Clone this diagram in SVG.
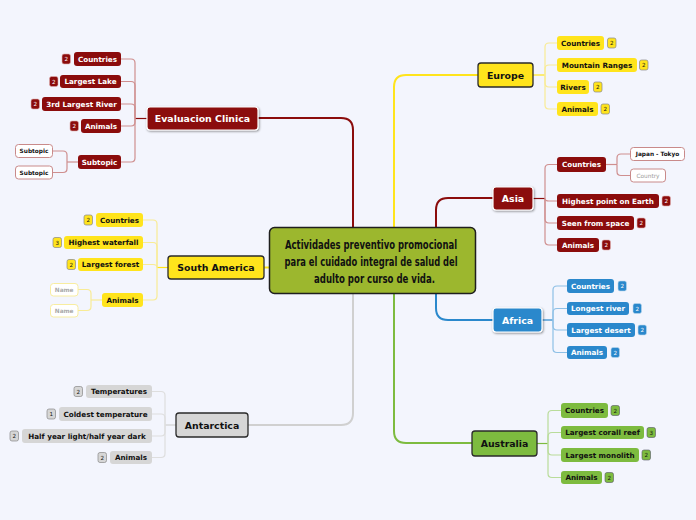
<svg xmlns="http://www.w3.org/2000/svg" width="696" height="520" viewBox="0 0 696 520">
<defs>
<filter id="sh" x="-10%" y="-20%" width="130%" height="160%"><feDropShadow dx="0.8" dy="1" stdDeviation="0.8" flood-color="#000" flood-opacity="0.45"/></filter>
<style>
text{font-family:"DejaVu Sans","Liberation Sans",sans-serif;font-weight:bold;text-anchor:middle}
.mt{font-size:9.4px}
.ct{font-size:7.2px}
.st{font-size:5.8px}
.bt{font-size:5.6px;font-weight:normal}
.w{fill:#fff}
.k{fill:#111}
.red{fill:#8b0c0c}
.yel{fill:#ffe41c}
.gry{fill:#d6d6d6}
.blu{fill:#2a88cc}
.grn{fill:#7dbb3f}
.mainr{stroke:#fff;stroke-width:1.2}
.maink{stroke:#2a2a2a;stroke-width:1.3}
.c{fill:none;stroke-width:1.2}
.cr{stroke:#cf8f8f}
.cy{stroke:#f8eb95}
.cg{stroke:#dedede}
.cb{stroke:#8ec0e6}
.cn{stroke:#b9dc9a}
.M{fill:none;stroke-width:2}
</style>
</defs>
<rect width="696" height="520" fill="#f3f5fd"/>

<g id="connectors">
<path class="M" stroke="#8b0c0c" d="M353,227 V130 Q353,118 341,118 H258"/>
<path class="M" stroke="#ffe41c" d="M394,227 V87 Q394,75 406,75 H478"/>
<path class="M" stroke="#8b0c0c" d="M436,227 V210 Q436,198 448,198 H493"/>
<path class="M" stroke="#2a88cc" d="M436,294 V308 Q436,320 448,320 H493"/>
<path class="M" stroke="#7dbb3f" d="M394,294 V431 Q394,443 406,443 H472"/>
<path class="M" stroke="#d0d0d0" d="M353,294 V413 Q353,425 341,425 H248"/>
<path class="M" stroke="#ffe41c" d="M270,267.5 H264"/>

<g class="c cr">
<path stroke="#8b0c0c" d="M147,118.5 H135"/>
<path d="M135,118.5 V63 Q135,59 131,59 H121"/>
<path d="M135,118.5 V85.5 Q135,81.5 131,81.5 H121"/>
<path d="M135,118.5 V108 Q135,104 131,104 H121"/>
<path d="M135,118.5 V122 Q135,126 131,126 H121"/>
<path d="M135,118.5 V158 Q135,162 131,162 H121"/>
<path d="M78,162 H67"/>
<path d="M67,162 V155 Q67,151 63,151 H52"/>
<path d="M67,162 V168.5 Q67,172.5 63,172.5 H52"/>
<path stroke="#8b0c0c" d="M533,198.5 H545"/>
<path d="M545,198.5 V168.5 Q545,164.5 549,164.5 H557"/>
<path d="M545,198.5 Q545,201 549,201 H557"/>
<path d="M545,198.5 V219 Q545,223 549,223 H557"/>
<path d="M545,198.5 V241 Q545,245 549,245 H557"/>
<path d="M606,164.5 H617"/>
<path d="M617,164.5 V158 Q617,154 621,154 H630"/>
<path d="M617,164.5 V171.5 Q617,175.5 621,175.5 H630"/>
</g>
<g class="c cy">
<path stroke="#ffe41c" d="M168,267.5 H157"/>
<path d="M157,267.5 V224 Q157,220 153,220 H143"/>
<path d="M157,267.5 V246.5 Q157,242.5 153,242.5 H143"/>
<path d="M157,267.5 Q157,264.5 153,264.5 H143"/>
<path d="M157,267.5 V296 Q157,300 153,300 H143"/>
<path d="M102,300 H91"/>
<path d="M91,300 V293.5 Q91,289.5 87,289.5 H78"/>
<path d="M91,300 V306.5 Q91,310.5 87,310.5 H78"/>
<path stroke="#ffe41c" d="M533,75 H545"/>
<path d="M545,75 V47 Q545,43 549,43 H557"/>
<path d="M545,75 V69 Q545,65 549,65 H557"/>
<path d="M545,75 V83 Q545,87 549,87 H557"/>
<path d="M545,75 V105 Q545,109 549,109 H557"/>
</g>
<g class="c cg">
<path stroke="#d0d0d0" d="M176,425 H165"/>
<path d="M165,425 V395.5 Q165,391.5 161,391.5 H152"/>
<path d="M165,425 V418 Q165,414 161,414 H152"/>
<path d="M165,425 V432 Q165,436 161,436 H152"/>
<path d="M165,425 V453.5 Q165,457.5 161,457.5 H152"/>
</g>
<g class="c cb">
<path stroke="#2a88cc" d="M542,320 H553"/>
<path d="M553,320 V290 Q553,286 557,286 H567"/>
<path d="M553,320 V312.5 Q553,308.5 557,308.5 H567"/>
<path d="M553,320 V326 Q553,330 557,330 H567"/>
<path d="M553,320 V348.5 Q553,352.5 557,352.5 H567"/>
</g>
<g class="c cn">
<path stroke="#7dbb3f" d="M537,443.5 H548"/>
<path d="M548,443.5 V414.5 Q548,410.5 552,410.5 H561"/>
<path d="M548,443.5 V436.5 Q548,432.5 552,432.5 H561"/>
<path d="M548,443.5 V451 Q548,455 552,455 H561"/>
<path d="M548,443.5 V473.5 Q548,477.5 552,477.5 H561"/>
</g>
</g>

<g id="center">
<rect x="269.5" y="227.5" width="206" height="66" rx="5" fill="#9cb72e" stroke="#1e1e1e" stroke-width="1.5"/>
<text font-family="'Liberation Sans Narrow','DejaVu Sans Condensed',sans-serif" style="font-family:'Liberation Sans Narrow','DejaVu Sans Condensed',sans-serif;font-size:12.5px" class="k">
<tspan x="373" y="249" textLength="172" lengthAdjust="spacingAndGlyphs">Actividades preventivo promocional</tspan>
<tspan x="373" y="266" textLength="173" lengthAdjust="spacingAndGlyphs">para el cuidado integral de salud del</tspan>
<tspan x="374.5" y="283" textLength="121" lengthAdjust="spacingAndGlyphs">adulto por curso de vida.</tspan>
</text>
</g>

<g id="evaluacion">
<rect x="147" y="107" width="111" height="23" rx="3" class="red mainr" filter="url(#sh)"/>
<text x="202.5" y="122" class="mt w">Evaluacion Clinica</text>
</g>
<g id="ev-countries"><rect x="74" y="52" width="47" height="14" rx="3" class="red"/><text x="97.5" y="61.6" class="ct w">Countries</text>
<rect x="62" y="54" width="8.5" height="10" rx="2" class="red" stroke="#e0b0b0" stroke-width="0.6"/><text x="66.2" y="61" class="bt w">2</text></g>
<g id="ev-lake"><rect x="60" y="75" width="61" height="13" rx="3" class="red"/><text x="90.5" y="84.1" class="ct w">Largest Lake</text>
<rect x="49.5" y="76.5" width="8.5" height="10" rx="2" class="red" stroke="#e0b0b0" stroke-width="0.6"/><text x="53.7" y="83.5" class="bt w">2</text></g>
<g id="ev-river"><rect x="42" y="97" width="79" height="14" rx="3" class="red"/><text x="81.5" y="106.6" class="ct w">3rd Largest River</text>
<rect x="31" y="99" width="8.5" height="10" rx="2" class="red" stroke="#e0b0b0" stroke-width="0.6"/><text x="35.2" y="106" class="bt w">2</text></g>
<g id="ev-animals"><rect x="81" y="119" width="40" height="14" rx="3" class="red"/><text x="101" y="128.6" class="ct w">Animals</text>
<rect x="70" y="121" width="8.5" height="10" rx="2" class="red" stroke="#e0b0b0" stroke-width="0.6"/><text x="74.2" y="128" class="bt w">2</text></g>
<g id="ev-subtopic"><rect x="78" y="155" width="43" height="14" rx="3" class="red"/><text x="99.5" y="164.6" class="ct w">Subtopic</text></g>
<g id="ev-sub1"><rect x="15.5" y="144.5" width="37" height="13" rx="3" fill="#fff" stroke="#c98a8a" stroke-width="1"/><text x="34" y="153" class="st k">Subtopic</text></g>
<g id="ev-sub2"><rect x="15.5" y="166" width="37" height="13" rx="3" fill="#fff" stroke="#c98a8a" stroke-width="1"/><text x="34" y="174.5" class="st k">Subtopic</text></g>

<g id="south-america">
<rect x="168" y="256" width="96" height="23" rx="3" class="yel maink"/>
<text x="216" y="271" class="mt k">South America</text>
</g>
<g id="sa-countries"><rect x="96" y="213" width="47" height="14" rx="3" class="yel"/><text x="119.5" y="222.6" class="ct k">Countries</text>
<rect x="84" y="215" width="8.5" height="10" rx="2" class="yel" stroke="#888" stroke-width="0.7"/><text x="88.2" y="222" class="bt k">2</text></g>
<g id="sa-waterfall"><rect x="64" y="236" width="79" height="13" rx="3" class="yel"/><text x="103.5" y="245.1" class="ct k">Highest waterfall</text>
<rect x="53" y="237.5" width="8.5" height="10" rx="2" class="yel" stroke="#888" stroke-width="0.7"/><text x="57.2" y="244.5" class="bt k">3</text></g>
<g id="sa-forest"><rect x="78" y="258" width="65" height="13" rx="3" class="yel"/><text x="110.5" y="267.1" class="ct k">Largest forest</text>
<rect x="67" y="259.5" width="8.5" height="10" rx="2" class="yel" stroke="#888" stroke-width="0.7"/><text x="71.2" y="266.5" class="bt k">2</text></g>
<g id="sa-animals"><rect x="102" y="293" width="41" height="14" rx="3" class="yel"/><text x="122.5" y="302.6" class="ct k">Animals</text></g>
<g id="sa-name1"><rect x="50.5" y="283.5" width="27.5" height="12.5" rx="3" fill="#fff" stroke="#f8eda0" stroke-width="1"/><text x="64.2" y="291.8" class="st" fill="#a8a8a8">Name</text></g>
<g id="sa-name2"><rect x="50.5" y="304.5" width="27.5" height="12.5" rx="3" fill="#fff" stroke="#f8eda0" stroke-width="1"/><text x="64.2" y="312.8" class="st" fill="#a8a8a8">Name</text></g>

<g id="antarctica">
<rect x="176" y="413" width="72" height="24" rx="3" class="gry maink"/>
<text x="212" y="428.5" class="mt k">Antarctica</text>
</g>
<g id="an-temp"><rect x="86" y="385" width="66" height="13" rx="3" class="gry"/><text x="119" y="394.1" class="ct k">Temperatures</text>
<rect x="74" y="386.5" width="8.5" height="10" rx="2" class="gry" stroke="#888" stroke-width="0.7"/><text x="78.2" y="393.5" class="bt k">2</text></g>
<g id="an-cold"><rect x="59" y="407" width="93" height="14" rx="3" class="gry"/><text x="105.5" y="416.6" class="ct k">Coldest temperature</text>
<rect x="47" y="409" width="8.5" height="10" rx="2" class="gry" stroke="#888" stroke-width="0.7"/><text x="51.2" y="416" class="bt k">1</text></g>
<g id="an-half"><rect x="22" y="429" width="130" height="14" rx="3" class="gry"/><text x="87" y="438.6" class="ct k">Half year light/half year dark</text>
<rect x="10" y="431" width="8.5" height="10" rx="2" class="gry" stroke="#888" stroke-width="0.7"/><text x="14.2" y="438" class="bt k">2</text></g>
<g id="an-animals"><rect x="110" y="451" width="42" height="13" rx="3" class="gry"/><text x="131" y="460.1" class="ct k">Animals</text>
<rect x="98" y="452.5" width="8.5" height="10" rx="2" class="gry" stroke="#888" stroke-width="0.7"/><text x="102.2" y="459.5" class="bt k">2</text></g>

<g id="europe">
<rect x="478" y="63" width="55" height="24" rx="3" class="yel maink"/>
<text x="505.5" y="78.5" class="mt k">Europe</text>
</g>
<g id="eu-countries"><rect x="557" y="36" width="47" height="14" rx="3" class="yel"/><text x="580.5" y="45.6" class="ct k">Countries</text>
<rect x="607.5" y="38" width="8.5" height="10" rx="2" class="yel" stroke="#888" stroke-width="0.7"/><text x="611.7" y="45" class="bt k">2</text></g>
<g id="eu-mountain"><rect x="557" y="58" width="80" height="14" rx="3" class="yel"/><text x="597" y="67.6" class="ct k">Mountain Ranges</text>
<rect x="639.5" y="60" width="8.5" height="10" rx="2" class="yel" stroke="#888" stroke-width="0.7"/><text x="643.7" y="67" class="bt k">2</text></g>
<g id="eu-rivers"><rect x="557" y="80" width="32" height="14" rx="3" class="yel"/><text x="573" y="89.6" class="ct k">Rivers</text>
<rect x="593.5" y="82" width="8.5" height="10" rx="2" class="yel" stroke="#888" stroke-width="0.7"/><text x="597.7" y="89" class="bt k">2</text></g>
<g id="eu-animals"><rect x="557" y="102" width="41" height="14" rx="3" class="yel"/><text x="577.5" y="111.6" class="ct k">Animals</text>
<rect x="601" y="104" width="8.5" height="10" rx="2" class="yel" stroke="#888" stroke-width="0.7"/><text x="605.2" y="111" class="bt k">2</text></g>

<g id="asia">
<rect x="493" y="187" width="40" height="23" rx="3" class="red mainr" filter="url(#sh)"/>
<text x="513" y="202" class="mt w">Asia</text>
</g>
<g id="as-countries"><rect x="557" y="157" width="49" height="15" rx="3" class="red"/><text x="581.5" y="167.1" class="ct w">Countries</text></g>
<g id="as-japan"><rect x="630.5" y="147.5" width="54" height="13" rx="3" fill="#fff" stroke="#c98a8a" stroke-width="1"/><text x="657.5" y="156" class="st k">Japan - Tokyo</text></g>
<g id="as-country"><rect x="630.5" y="169" width="35" height="13" rx="3" fill="#fff" stroke="#c98a8a" stroke-width="1"/><text x="648" y="177.6" class="st" style="font-weight:normal" fill="#999">Country</text></g>
<g id="as-highest"><rect x="557" y="194" width="102" height="14" rx="3" class="red"/><text x="608" y="203.6" class="ct w">Highest point on Earth</text>
<rect x="662" y="196" width="8.5" height="10" rx="2" class="red" stroke="#e0b0b0" stroke-width="0.6"/><text x="666.2" y="203" class="bt w">2</text></g>
<g id="as-seen"><rect x="557" y="216" width="77" height="14" rx="3" class="red"/><text x="595.5" y="225.6" class="ct w">Seen from space</text>
<rect x="637" y="218" width="8.5" height="10" rx="2" class="red" stroke="#e0b0b0" stroke-width="0.6"/><text x="641.2" y="225" class="bt w">2</text></g>
<g id="as-animals"><rect x="557" y="238" width="42" height="14" rx="3" class="red"/><text x="578" y="247.6" class="ct w">Animals</text>
<rect x="602" y="240" width="8.5" height="10" rx="2" class="red" stroke="#e0b0b0" stroke-width="0.6"/><text x="606.2" y="247" class="bt w">2</text></g>

<g id="africa">
<rect x="493" y="308" width="49" height="24" rx="3" class="blu mainr" filter="url(#sh)"/>
<text x="517.5" y="323.5" class="mt w">Africa</text>
</g>
<g id="af-countries"><rect x="567" y="279" width="47" height="14" rx="3" class="blu"/><text x="590.5" y="288.6" class="ct w">Countries</text>
<rect x="618" y="281" width="8.5" height="10" rx="2" class="blu" stroke="#bcd8ee" stroke-width="0.6"/><text x="622.2" y="288" class="bt w">2</text></g>
<g id="af-river"><rect x="567" y="302" width="62" height="13" rx="3" class="blu"/><text x="598" y="311.1" class="ct w">Longest river</text>
<rect x="633" y="303.5" width="8.5" height="10" rx="2" class="blu" stroke="#bcd8ee" stroke-width="0.6"/><text x="637.2" y="310.5" class="bt w">2</text></g>
<g id="af-desert"><rect x="567" y="323" width="68" height="14" rx="3" class="blu"/><text x="601" y="332.6" class="ct w">Largest desert</text>
<rect x="638" y="325" width="8.5" height="10" rx="2" class="blu" stroke="#bcd8ee" stroke-width="0.6"/><text x="642.2" y="332" class="bt w">2</text></g>
<g id="af-animals"><rect x="567" y="346" width="40" height="13" rx="3" class="blu"/><text x="587" y="355.1" class="ct w">Animals</text>
<rect x="611" y="347.5" width="8.5" height="10" rx="2" class="blu" stroke="#bcd8ee" stroke-width="0.6"/><text x="615.2" y="354.5" class="bt w">2</text></g>

<g id="australia">
<rect x="472" y="431" width="65" height="25" rx="3" class="grn maink"/>
<text x="504.5" y="447" class="mt k">Australia</text>
</g>
<g id="au-countries"><rect x="561" y="403" width="47" height="15" rx="3" class="grn"/><text x="584.5" y="413.1" class="ct k">Countries</text>
<rect x="611" y="405.5" width="8.5" height="10" rx="2" class="grn" stroke="#556" stroke-width="0.6"/><text x="615.2" y="412.5" class="bt k">2</text></g>
<g id="au-reef"><rect x="561" y="426" width="83" height="13" rx="3" class="grn"/><text x="602.5" y="435.1" class="ct k">Largest corall reef</text>
<rect x="647" y="427.5" width="8.5" height="10" rx="2" class="grn" stroke="#556" stroke-width="0.6"/><text x="651.2" y="434.5" class="bt k">3</text></g>
<g id="au-monolith"><rect x="561" y="448" width="78" height="14" rx="3" class="grn"/><text x="600" y="457.6" class="ct k">Largest monolith</text>
<rect x="642" y="450" width="8.5" height="10" rx="2" class="grn" stroke="#556" stroke-width="0.6"/><text x="646.2" y="457" class="bt k">2</text></g>
<g id="au-animals"><rect x="561" y="471" width="41" height="13" rx="3" class="grn"/><text x="581.5" y="480.1" class="ct k">Animals</text>
<rect x="605" y="472.5" width="8.5" height="10" rx="2" class="grn" stroke="#556" stroke-width="0.6"/><text x="609.2" y="479.5" class="bt k">2</text></g>
</svg>
